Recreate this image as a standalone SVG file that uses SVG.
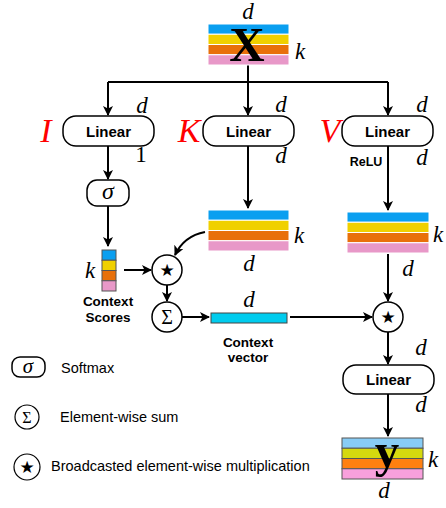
<svg xmlns="http://www.w3.org/2000/svg" width="446" height="508" viewBox="0 0 446 508">
<defs>
<marker id="ah" viewBox="0 0 10 10" refX="9" refY="5" markerWidth="5" markerHeight="5" orient="auto" markerUnits="strokeWidth">
<path d="M0,0 L10,5 L0,10 L2.5,5 z" fill="#000"/>
</marker>
<style>
.box{fill:#fff;stroke:#000;stroke-width:1.5}
.lin{font-family:"Liberation Sans",Arial,sans-serif;font-weight:bold;font-size:15px;text-anchor:middle}
.m{font-family:"Liberation Serif","Times New Roman",serif;font-style:italic;font-size:23px;text-anchor:middle}
.cal{font-family:"Liberation Serif","Times New Roman",serif;font-style:italic;font-size:34px;fill:#f00;text-anchor:middle}
.big{font-family:"Liberation Serif","Times New Roman",serif;font-weight:bold;font-size:49px;text-anchor:middle}
.lbl{font-family:"Liberation Sans",Arial,sans-serif;font-weight:bold;font-size:13.5px;text-anchor:middle}
.leg{font-family:"Liberation Sans",Arial,sans-serif;font-size:14.5px}
.op{fill:#fff;stroke:#000;stroke-width:1.5}
.star{font-family:"DejaVu Sans",sans-serif;font-size:17px;text-anchor:middle}
.sig{font-family:"Liberation Serif","Times New Roman",serif;font-size:20px;text-anchor:middle}
.c{stroke:#000;stroke-width:2;fill:none}
.b1{fill:#0A9FF0}.b2{fill:#F0D000}.b3{fill:#E8700A}.b4{fill:#E898C8}
.sw{stroke:#fff;stroke-width:1}
.sg{stroke:#555;stroke-width:1}
</style>
</defs>

<g id="connectors">
<path class="c" d="M248,65 V82 M108,82 H388"/>
<path class="c" d="M108,82 V115" marker-end="url(#ah)"/>
<path class="c" d="M248,65 V115" marker-end="url(#ah)"/>
<path class="c" d="M388,82 V115" marker-end="url(#ah)"/>
<path class="c" d="M108,146 V179" marker-end="url(#ah)"/>
<path class="c" d="M108,206 V246" marker-end="url(#ah)"/>
<path class="c" d="M124,270 H151" marker-end="url(#ah)"/>
<path class="c" d="M248,146 V208" marker-end="url(#ah)"/>
<path class="c" d="M205,232 Q184,236 175,255" marker-end="url(#ah)"/>
<path class="c" d="M167,285 V301" marker-end="url(#ah)"/>
<path class="c" d="M182,317 H209" marker-end="url(#ah)"/>
<path class="c" d="M290,317 H372" marker-end="url(#ah)"/>
<path class="c" d="M388,146 V210" marker-end="url(#ah)"/>
<path class="c" d="M388,254 V301" marker-end="url(#ah)"/>
<path class="c" d="M388,332 V364" marker-end="url(#ah)"/>
<path class="c" d="M388,394 V436" marker-end="url(#ah)"/>
</g>

<g id="X">
<rect class="b1 sw" x="208" y="24" width="81" height="10.25"/>
<rect class="b2 sw" x="208" y="34.25" width="81" height="10.25"/>
<rect class="b3 sw" x="208" y="44.5" width="81" height="10.25"/>
<rect class="b4 sw" x="208" y="54.75" width="81" height="10.25"/>
<text class="big" x="247" y="61">X</text>
<text class="m" x="248" y="19">d</text>
<text class="m" x="300" y="59">k</text>
</g>

<g id="linear-I">
<rect class="box" x="63" y="116" width="91" height="30" rx="13"/>
<text class="lin" x="108.5" y="137">Linear</text>
<text class="cal" x="46" y="142">I</text>
<text class="m" x="142" y="113">d</text>
<text class="m" x="141" y="162" style="font-style:normal">1</text>
</g>

<g id="linear-K">
<rect class="box" x="203" y="116" width="91" height="30" rx="13"/>
<text class="lin" x="248.5" y="137">Linear</text>
<text class="cal" x="189" y="142">K</text>
<text class="m" x="281" y="112">d</text>
<text class="m" x="281" y="163">d</text>
</g>

<g id="linear-V">
<rect class="box" x="342" y="116" width="91" height="30" rx="13"/>
<text class="lin" x="387.5" y="137">Linear</text>
<text class="cal" x="330" y="142">V</text>
<text class="m" x="422" y="112">d</text>
<text class="m" x="422" y="165">d</text>
<text class="lbl" x="366" y="166" style="font-size:12.5px">ReLU</text>
</g>

<g id="softmax">
<rect class="box" x="87" y="180" width="42" height="26" rx="10"/>
<text class="m" x="108" y="199" style="font-size:24px">σ</text>
</g>

<g id="context-scores">
<rect class="b1 sg" x="102" y="250" width="14" height="10.25"/>
<rect class="b2 sg" x="102" y="260.25" width="14" height="10.25"/>
<rect class="b3 sg" x="102" y="270.5" width="14" height="10.25"/>
<rect class="b4 sg" x="102" y="280.75" width="14" height="10.25"/>
<text class="m" x="90" y="278">k</text>
<text class="lbl" x="108" y="306">Context</text>
<text class="lbl" x="108" y="322">Scores</text>
</g>

<g id="K-out">
<rect class="b1 sw" x="208" y="210" width="81" height="10.25"/>
<rect class="b2 sw" x="208" y="220.25" width="81" height="10.25"/>
<rect class="b3 sw" x="208" y="230.5" width="81" height="10.25"/>
<rect class="b4 sw" x="208" y="240.75" width="81" height="10.25"/>
<text class="m" x="299" y="243">k</text>
<text class="m" x="249" y="271">d</text>
</g>

<g id="V-out">
<rect class="b1 sw" x="347" y="212" width="82" height="10.25"/>
<rect class="b2 sw" x="347" y="222.25" width="82" height="10.25"/>
<rect class="b3 sw" x="347" y="232.5" width="82" height="10.25"/>
<rect class="b4 sw" x="347" y="242.75" width="82" height="10.25"/>
<text class="m" x="438" y="242">k</text>
<text class="m" x="408" y="276">d</text>
</g>

<g id="mul1">
<circle class="op" cx="167" cy="270" r="15"/>
<text class="star" x="167" y="276">★</text>
</g>

<g id="sum">
<circle class="op" cx="167" cy="317" r="15"/>
<text class="sig" x="167" y="324">Σ</text>
</g>

<g id="context-vector">
<rect x="211" y="313" width="76" height="10" fill="#00CCEE" stroke="#444" stroke-width="1"/>
<text class="m" x="249" y="307">d</text>
<text class="lbl" x="248" y="347">Context</text>
<text class="lbl" x="248" y="362">vector</text>
</g>

<g id="mul2">
<circle class="op" cx="388" cy="317" r="15"/>
<text class="star" x="388" y="323">★</text>
</g>

<g id="linear-out">
<rect class="box" x="343" y="365" width="91" height="29" rx="13"/>
<text class="lin" x="388.5" y="385">Linear</text>
<text class="m" x="421" y="355">d</text>
<text class="m" x="421" y="412">d</text>
</g>

<g id="Y">
<rect x="342" y="438" width="81" height="10.25" fill="#88CCF5" class="sg"/>
<rect x="342" y="448.25" width="81" height="10.25" fill="#D5D90F" class="sg"/>
<rect x="342" y="458.5" width="81" height="10.25" fill="#FF8010" class="sg"/>
<rect x="342" y="468.75" width="81" height="10.25" fill="#F8A0DC" class="sg"/>
<text class="big" x="387" y="467">y</text>
<text class="m" x="433" y="467">k</text>
<text class="m" x="384" y="498">d</text>
</g>

<g id="legend">
<rect class="box" x="12" y="357" width="33" height="20" rx="8"/>
<text class="m" x="28" y="373" style="font-size:21px">σ</text>
<text class="leg" x="61" y="373">Softmax</text>
<circle class="op" cx="27" cy="417" r="12" style="stroke-width:1.2"/>
<text class="sig" x="27" y="423" style="font-size:16px">Σ</text>
<text class="leg" x="60" y="422">Element-wise sum</text>
<circle class="op" cx="27" cy="467" r="13" style="stroke-width:1.2"/>
<text class="star" x="27" y="473">★</text>
<text class="leg" x="51" y="471">Broadcasted element-wise multiplication</text>
</g>
</svg>
